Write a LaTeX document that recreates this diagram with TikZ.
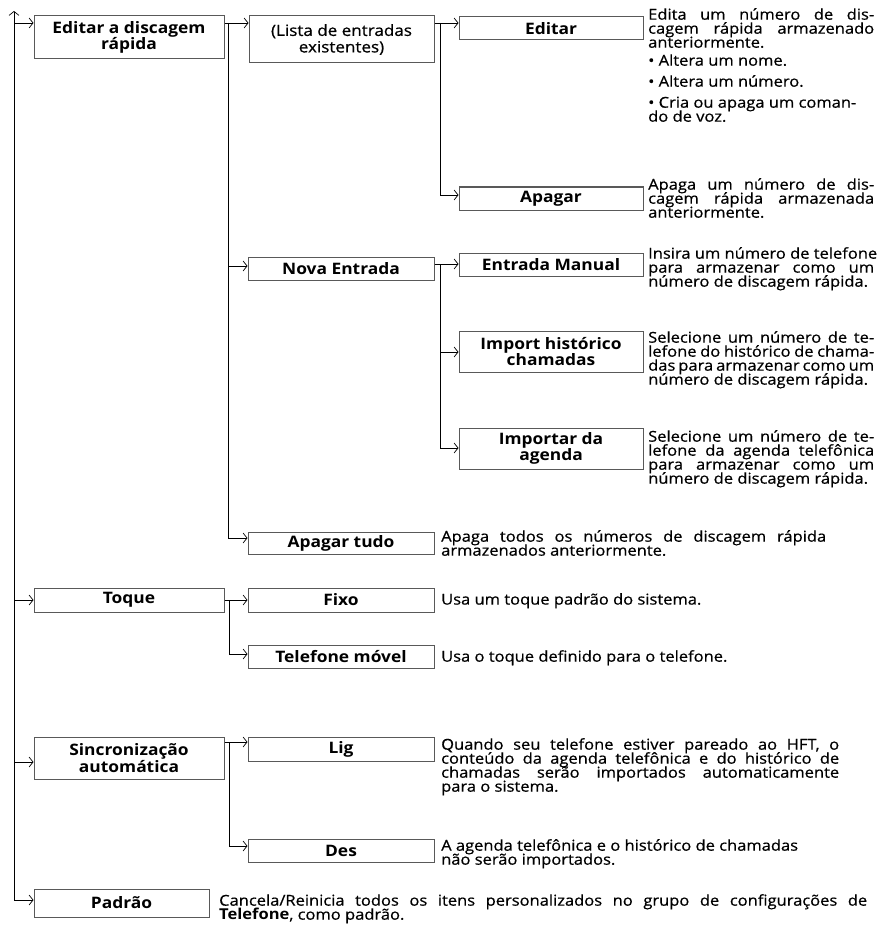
\documentclass[tikz,border=0pt]{standalone}
\usepackage{fontspec}
\setmainfont{Open Sans}[FakeStretch=1.1, UprightFeatures={FakeBold=0.6}]
\usetikzlibrary{arrows.meta}
\newcommand\jline[2]{\makebox[#1pt][s]{#2}}
\newcommand\tightlines{\lineskiplimit-20pt\relax}
\tikzset{
  >={Straight Barb[length=4pt,width=10pt,line width=0.7pt]},
  bx/.style={draw=black!65, line width=1pt, inner sep=0pt, align=center,
    font={\fontsize{15.8}{16.5}\selectfont\tightlines\bfseries}},
  bxr/.style={bx, font={\fontsize{15.5}{16.5}\selectfont\tightlines}},
  desc/.style={anchor=north west, inner sep=0pt, align=left,
    font={\fontsize{15}{14}\selectfont\tightlines}},
  conn/.style={line width=0.9pt, ->},
}
\begin{document}
\begin{tikzpicture}[x=1pt,y=-1pt]
\useasboundingbox (0,0) rectangle (882,928);

% level 1
\node[bx, minimum width=190pt, minimum height=43pt] (ed1) at (129,37.5) {Editar a discagem\\rápida};
\node[bx, minimum width=190pt, minimum height=24pt] (toque) at (129,600) {Toque};
\node[bx, minimum width=190pt, minimum height=42pt] (sinc) at (129,758) {Sincronização\\automática};
\node[bx, minimum width=175pt, minimum height=28pt] (padrao) at (121.5,903) {Padrão};

% level 2
\node[bxr, minimum width=185pt, minimum height=47pt] (lista) at (341.5,39.5) {(Lista de entradas\\existentes)};
\node[bx, minimum width=186pt, minimum height=23pt] (nova) at (341,268.5) {Nova Entrada};
\node[bx, minimum width=186pt, minimum height=22pt] (apagtudo) at (341,543) {Apagar tudo};
\node[bx, minimum width=186pt, minimum height=24pt] (fixo) at (341,600) {Fixo};
\node[bx, minimum width=186pt, minimum height=23pt] (movel) at (341,656.5) {Telefone móvel};
\node[bx, minimum width=186pt, minimum height=24pt] (lig) at (341,749) {Lig};
\node[bx, minimum width=186pt, minimum height=23pt] (des) at (341,850.5) {Des};

% level 3
\node[bx, minimum width=184pt, minimum height=23pt] (editar) at (551,28.5) {Editar};
\node[bx, minimum width=184pt, minimum height=23pt] (apagar) at (551,198.5) {Apagar};
\node[bx, minimum width=184pt, minimum height=23pt] (manual) at (551,264.5) {Entrada Manual};
\node[bx, minimum width=184pt, minimum height=41pt] (hist) at (551,351.5) {Import histórico\\chamadas};
\node[bx, minimum width=184pt, minimum height=41pt] (agenda) at (551,448.5) {Importar da\\agenda};

% descriptions
\node[desc] (dEditar) at (648,8) {\strut\jline{226}{Edita um número de dis-}\\
  \jline{226}{cagem rápida armazenado}\\ anteriormente.\\[4pt]
  • Altera um nome.\\[7pt] • Altera um número.\\[7pt]
  • Cria ou apaga um coman-\\ do de voz.};
\node[desc] (dApagar) at (648,178) {\strut\jline{226}{Apaga um número de dis-}\\
  \jline{226}{cagem rápida armazenada}\\ anteriormente.};
\node[desc] (dManual) at (648,247) {\strut Insira um número de telefone\\
  \jline{226}{para armazenar como um}\\ número de discagem rápida.};
\node[desc] (dHist) at (648,331) {\strut\jline{226}{Selecione um número de te-}\\
  \jline{226}{lefone do histórico de chama-}\\ \jline{226}{das para armazenar como um}\\
  número de discagem rápida.};
\node[desc] (dAgenda) at (648,430) {\strut\jline{226}{Selecione um número de te-}\\
  \jline{226}{lefone da agenda telefônica}\\ \jline{226}{para armazenar como um}\\
  número de discagem rápida.};
\node[desc] (dTudo) at (441,530) {\strut\jline{385}{Apaga todos os números de discagem rápida}\\
  armazenados anteriormente.};
\node[desc] (dFixo) at (441,593) {\strut Usa um toque padrão do sistema.};
\node[desc] (dMovel) at (441,650) {\strut Usa o toque definido para o telefone.};
\node[desc] (dLig) at (441,738) {\strut\jline{398}{Quando seu telefone estiver pareado ao HFT, o}\\
  \jline{398}{conteúdo da agenda telefônica e do histórico de}\\
  \jline{398}{chamadas serão importados automaticamente}\\ para o sistema.};
\node[desc] (dDes) at (441,839) {\strut A agenda telefônica e o histórico de chamadas\\ não serão importados.};
\node[desc] (dPadrao) at (219,894) {\strut\jline{648}{Cancela/Reinicia todos os itens personalizados no grupo de configurações de}\\
  \textbf{Telefone}, como padrão.};

% junction coordinates
\coordinate (mtop) at (14,11);
\coordinate (mbot) at (14,900);
\coordinate (m1) at (14,23);
\coordinate (m2) at (14,600);
\coordinate (m3) at (14,762);
\coordinate (a1) at (228,23);
\coordinate (a2) at (228,538);
\coordinate (a3) at (228,266);
\coordinate (b1) at (440,23);
\coordinate (b2) at (440,195);
\coordinate (c1) at (440,264);
\coordinate (c2) at (440,352);
\coordinate (c3) at (440,448);
\coordinate (d1) at (229,600);
\coordinate (d2) at (229,654);
\coordinate (e1) at (229,742);
\coordinate (e2) at (229,846);

% connectors
\draw[conn, <->] (mtop) -- (mbot) -- (padrao.west |- mbot);
\draw[conn] (m1) -- (ed1.west |- m1);
\draw[conn] (m2) -- (toque.west |- m2);
\draw[conn] (m3) -- (sinc.west |- m3);

\draw[conn] (ed1.east |- a1) -- (lista.west |- a1);
\draw[conn] (a1) -- (a2) -- (apagtudo.west |- a2);
\draw[conn] (a3) -- (nova.west |- a3);

\draw[conn] (lista.east |- b1) -- (editar.west |- b1);
\draw[conn] (b1) -- (b2) -- (apagar.west |- b2);

\draw[conn] (nova.east |- c1) -- (manual.west |- c1);
\draw[conn] (c2) -- (hist.west |- c2);
\draw[conn] (c1) -- (c3) -- (agenda.west |- c3);

\draw[conn] (toque.east |- d1) -- (fixo.west |- d1);
\draw[conn] (d1) -- (d2) -- (movel.west |- d2);

\draw[conn] (sinc.east |- e1) -- (lig.west |- e1);
\draw[conn] (e1) -- (e2) -- (des.west |- e2);
\end{tikzpicture}
\end{document}
